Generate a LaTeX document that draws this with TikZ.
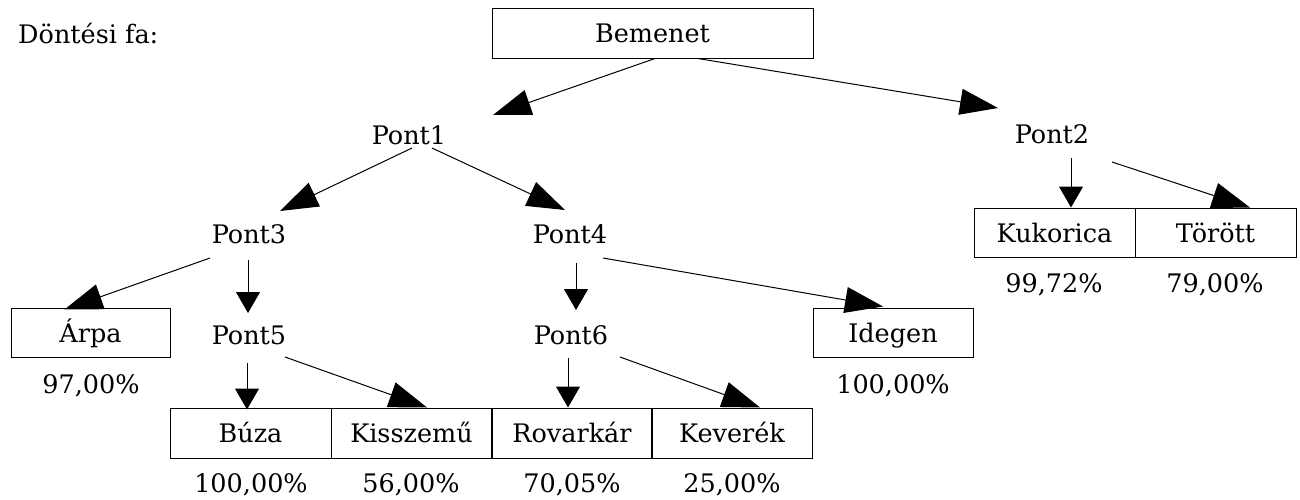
\documentclass[tikz,border=0pt]{standalone}
\usepackage{fontspec}
\setmainfont{DejaVu Serif}
\usetikzlibrary{arrows.meta}
\begin{document}
\begin{tikzpicture}[x=1pt,y=-1pt,
  font=\fontsize{25.5pt}{30pt}\selectfont,
  cell/.style={draw,line width=1pt,minimum width=161pt,minimum height=50pt,inner sep=0pt,text height=19pt,text depth=0pt},
  lbl/.style={anchor=base,inner sep=0pt},
  arr/.style={line width=1pt,-{Triangle[length=38pt,width=26pt]}},
  varr/.style={line width=1pt,-{Triangle[length=21pt,width=24pt]}}]
\useasboundingbox (0,0) rectangle (1300,499);
% title
\node[anchor=base west,inner sep=0pt] (title) at (18,43) {Döntési fa:};
% boxes
\node[cell,minimum width=321pt] (bem) at (652.5,33) {Bemenet};
\node[cell,minimum width=159pt,minimum height=49pt] (arpa) at (90.5,332.5) {Árpa};
\node[cell,minimum width=160pt,minimum height=49pt] (ideg) at (893,332.5) {Idegen};
\node[cell] (buza) at (250.5,433) {Búza};
\node[cell] (kiss) at (411.5,433) {Kisszemű};
\node[cell] (rov) at (572,433) {Rovarkár};
\node[cell] (kev) at (732,433) {Keverék};
\node[cell,minimum height=49pt] (kuk) at (1054.5,232.5) {Kukorica};
\node[cell,minimum height=49pt] (tor) at (1215.5,232.5) {Törött};
% inner points
\node[lbl] (p1) at (409,144) {Pont1};
\node[lbl] (p2) at (1052,143) {Pont2};
\node[lbl] (p3) at (249,243) {Pont3};
\node[lbl] (p4) at (570,243) {Pont4};
\node[lbl] (p5) at (249,344) {Pont5};
\node[lbl] (p6) at (571,344) {Pont6};
% percentages
\node[lbl] (arpaP) at (91,393) {97,00\%};
\node[lbl] (idegP) at (893,393) {100,00\%};
\node[lbl] (buzaP) at (251,492) {100,00\%};
\node[lbl] (kissP) at (411,492) {56,00\%};
\node[lbl] (rovP) at (572,492) {70,05\%};
\node[lbl] (kevP) at (732,492) {25,00\%};
\node[lbl] (kukP) at (1054,292) {99,72\%};
\node[lbl] (torP) at (1215,292) {79,00\%};
% connectors
\draw[arr] ([shift={(2.5,0)}]bem.south) -- ([shift={(84,-29)}]p1.base);
\draw[arr] ([shift={(45.5,0)}]bem.south) -- ([shift={(-54,-35)}]p2.base);
\draw[arr] ([shift={(3,4)}]p1.base) -- ([shift={(31,-32)}]p3.base);
\draw[arr] ([shift={(23,4)}]p1.base) -- ([shift={(-5,-33)}]p4.base);
\draw[arr] ([shift={(-39,15)}]p3.base) -- ([shift={(-26,2)}]arpa.north);
\draw[varr] ([shift={(-1,17)}]p3.base) -- ([shift={(-1,-31)}]p5.base);
\draw[varr] ([shift={(6,20)}]p4.base) -- ([shift={(5,-34)}]p6.base);
\draw[arr] ([shift={(33,15)}]p4.base) -- ([shift={(-10,-1)}]ideg.north);
\draw[varr] ([shift={(-2,19)}]p5.base) -- ([shift={(-3.5,2)}]buza.north);
\draw[arr] ([shift={(36,13)}]p5.base) -- ([shift={(15.5,0)}]kiss.north);
\draw[varr] ([shift={(-3,14)}]p6.base) -- ([shift={(-4,0)}]rov.north);
\draw[arr] ([shift={(49,13)}]p6.base) -- ([shift={(28,0)}]kev.north);
\draw[varr] ([shift={(19,15)}]p2.base) -- ([shift={(16.5,0)}]kuk.north);
\draw[arr] ([shift={(60,19)}]p2.base) -- ([shift={(34.5,0)}]tor.north);
\end{tikzpicture}
\end{document}
